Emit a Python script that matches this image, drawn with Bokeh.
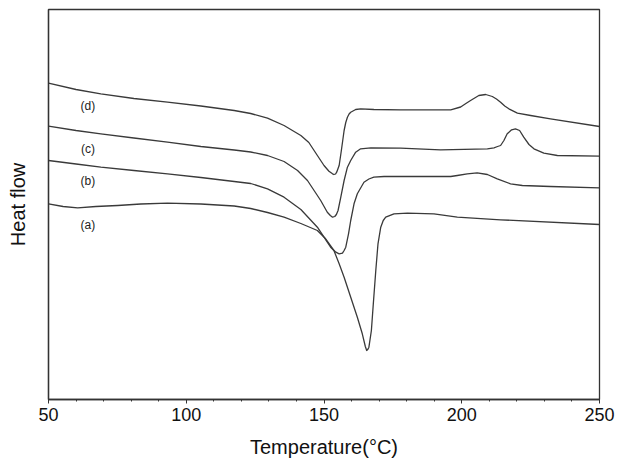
from bokeh.plotting import figure
from bokeh.models import Range1d, FixedTicker, Label
from bokeh.embed import file_html
from bokeh.resources import INLINE

# Temperatures (°C) and heat-flow values (arbitrary units)
t_a = [50, 55.3, 60.6, 67.2, 75.1, 83.5, 93.2, 105.3, 117.4, 123.4, 129.5, 135.5, 141.6, 147.6,
       150.6, 153.6, 155.5, 157.3, 159.7, 162.1, 163.9, 165.0, 165.5, 166.0, 166.3, 167.2,
       167.9, 168.8, 169.6, 170.6, 171.5, 172.4, 175.4, 180.3, 189.9, 198.4, 214.1, 250]
hf_a = [19.57, 19.3, 19.17, 19.3, 19.4, 19.55, 19.63, 19.55, 19.35, 19.1, 18.7, 18.23, 17.6, 16.9,
        16.07, 14.9, 13.57, 12.23, 10.23, 8.23, 6.57, 5.3, 4.9, 5.05, 5.23, 6.9,
        9.57, 12.9, 15.57, 17.23, 17.9, 18.23, 18.57, 18.63, 18.57, 18.23, 17.97, 17.5]

t_b = [50, 60.0, 69.0, 81.0, 93.2, 105.3, 117.4, 123.4, 129.5, 135.5, 141.6, 147.6, 150.0, 152.4,
       154.3, 155.5, 156.7, 157.3, 157.9, 158.9, 159.7, 160.9, 162.1, 164.5, 166.3, 168.1,
       171.8, 196.0, 198.4, 202.0, 205.6, 209.3, 212.9, 217.7, 222.0, 232.2, 250]
hf_b = [23.9, 23.55, 23.23, 22.9, 22.57, 22.2, 21.8, 21.6, 21.07, 20.23, 19.0, 17.23, 16.23, 15.23,
        14.73, 14.57, 14.63, 14.9, 15.23, 16.57, 17.9, 19.57, 20.57, 21.73, 22.05, 22.23,
        22.3, 22.3, 22.4, 22.57, 22.67, 22.5, 22.07, 21.57, 21.4, 21.3, 21.17]

t_c = [50, 60.0, 69.0, 81.0, 93.2, 105.3, 117.4, 123.4, 129.5, 135.5, 140.4, 144.0, 146.4, 148.8,
       151.2, 152.3, 153.1, 153.9, 154.5, 155.1, 156.1, 157.3, 158.5, 159.7, 161.5, 163.3,
       167.0, 177.8, 192.3, 209.3, 211.7, 213.0, 214.1, 215.3, 216.5, 218.1, 219.5, 221.0,
       222.5, 224.4, 226.2, 229.8, 234.7, 250]
hf_c = [27.33, 26.9, 26.57, 26.15, 25.73, 25.3, 24.95, 24.75, 24.4, 23.8, 22.9, 21.9, 20.9, 19.9,
        18.73, 18.4, 18.23, 18.3, 18.5, 18.9, 20.23, 21.9, 23.23, 23.9, 24.73, 25.07,
        25.17, 25.13, 24.97, 25.07, 25.17, 25.3, 25.4, 25.9, 26.57, 26.97, 27.07, 26.9,
        26.23, 25.5, 25.07, 24.63, 24.4, 24.33]

t_d = [50, 60.0, 69.0, 81.0, 93.2, 105.3, 117.4, 123.4, 129.5, 135.5, 141.6, 144.5, 147.6, 150.0,
       151.8, 153.1, 153.6, 154.2, 154.6, 155.5, 156.3, 156.8, 157.3, 157.9, 158.5, 159.1,
       159.7, 161.5, 163.3, 168.1, 177.8, 196.0, 199.6, 201.5, 203.2, 206.2, 208.7, 211.1,
       212.6, 214.1, 215.6, 217.1, 220.2, 225.0, 232.2, 250]
hf_d = [31.63, 31.0, 30.57, 30.1, 29.73, 29.35, 28.9, 28.6, 28.13, 27.4, 26.4, 25.7, 24.4, 23.4,
        22.83, 22.57, 22.5, 22.55, 22.73, 23.4, 24.9, 25.9, 26.9, 27.7, 28.23, 28.55,
        28.73, 29.0, 29.07, 29.0, 28.97, 28.97, 29.25, 29.6, 29.9, 30.4, 30.5, 30.3,
        30.05, 29.73, 29.35, 29.07, 28.63, 28.4, 28.07, 27.3]

labels = ["(a)", "(b)", "(c)", "(d)"]
label_t = [64.3, 64.3, 64.3, 64.3]
label_hf = [17.5, 21.83, 25.07, 29.4]

x_ticks = [50, 100, 150, 200, 250]

FONT = "Liberation Sans"
LINE = "#3a3a3a"

p = figure(width=620, height=467, output_backend="svg", toolbar_location=None,
           x_range=Range1d(50, 250), y_range=Range1d(0, 39),
           min_border_left=48, min_border_right=21, min_border_top=9, min_border_bottom=68)
p.background_fill_color = "white"
p.border_fill_color = "white"
p.outline_line_color = "#333333"
p.outline_line_width = 1.3
p.xgrid.visible = False
p.ygrid.visible = False

for t, hf in [(t_a, hf_a), (t_b, hf_b), (t_c, hf_c), (t_d, hf_d)]:
    p.line(t, hf, line_color=LINE, line_width=1.3, line_join="round")

for lab, lt, lh in zip(labels, label_t, label_hf):
    p.add_layout(Label(x=lt, y=lh, text=lab, text_font=FONT, text_font_size="12px",
                       text_color="#222222", text_align="center", text_baseline="middle"))

xa = p.xaxis[0]
xa.ticker = FixedTicker(ticks=x_ticks, minor_ticks=list(range(50, 251, 10)))
xa.axis_label = "Temperature(°C)"
xa.axis_label_text_font = FONT
xa.axis_label_text_font_style = "normal"
xa.axis_label_text_font_size = "20px"
xa.axis_label_text_color = "#111111"
xa.axis_label_standoff = 12
xa.major_label_text_font = FONT
xa.major_label_text_font_size = "18px"
xa.major_label_text_color = "#111111"
xa.major_label_standoff = 4
xa.axis_line_color = "#333333"
xa.axis_line_width = 1.3
xa.major_tick_line_color = "#333333"
xa.major_tick_out = 4
xa.major_tick_in = 0
xa.minor_tick_line_color = "#333333"
xa.minor_tick_out = 2
xa.minor_tick_in = 0

ya = p.yaxis[0]
ya.ticker = FixedTicker(ticks=[])
ya.axis_label = "Heat flow"
ya.axis_label_text_font = FONT
ya.axis_label_text_font_style = "normal"
ya.axis_label_text_font_size = "20px"
ya.axis_label_text_color = "#111111"
ya.major_tick_line_color = None
ya.minor_tick_line_color = None
ya.axis_line_color = "#333333"
ya.axis_line_width = 1.3
ya.axis_label_standoff = 20

open("out.html", "w").write(file_html(p, INLINE))
